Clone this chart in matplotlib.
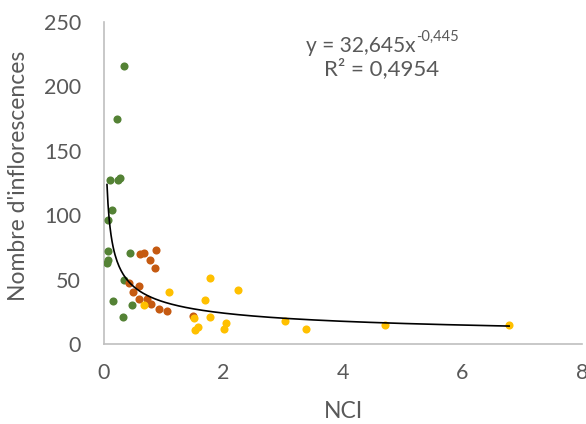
import numpy as np
import matplotlib
matplotlib.use('Agg')
import matplotlib.pyplot as plt

plt.rcParams['font.family'] = ['Lato', 'DejaVu Sans']

# green series
green_x = [0.33, 0.22, 0.10, 0.23, 0.26, 0.13, 0.07, 0.06, 0.06, 0.05, 0.44, 0.33, 0.15, 0.47, 0.31]
green_y = [216, 175, 127, 127, 129, 104, 96, 72, 65, 63, 71, 50, 33, 30, 21]

# orange series
orange_x = [0.61, 0.67, 0.87, 0.77, 0.86, 0.42, 0.59, 0.49, 0.59, 0.72, 0.79, 0.92, 1.06, 1.49]
orange_y = [70, 71, 73, 65, 59, 47, 45, 40, 35, 35, 31, 27, 26, 22]

# yellow series
yellow_x = [0.67, 1.09, 1.77, 1.69, 2.24, 1.50, 1.77, 1.57, 1.53, 2.05, 2.00, 3.03, 3.38, 4.70, 6.78]
yellow_y = [30, 40, 51, 34, 42, 20, 21, 13, 11, 16, 12, 18, 12, 15, 15]

# power trend line y = a * x^b
coef_a = 32.645
coef_b = -0.445

grey = '#595959'
W, H = 586, 424

fig = plt.figure(figsize=(W / 100, H / 100), dpi=100)
ax = fig.add_axes([104 / W, 1 - 344 / H, 478 / W, 322 / H])

ax.scatter(green_x, green_y, s=34, color='#548235', zorder=3, linewidths=0)
ax.scatter(orange_x, orange_y, s=34, color='#C55A11', zorder=3, linewidths=0)
ax.scatter(yellow_x, yellow_y, s=34, color='#FFC000', zorder=3, linewidths=0)

xs = np.linspace(0.05, 6.78, 400)
ax.plot(xs, coef_a * xs ** coef_b, color='black', lw=1.2, zorder=4)

ax.set_xlim(0, 8)
ax.set_ylim(0, 250)
ax.set_xticks([0, 2, 4, 6, 8])
ax.set_yticks([0, 50, 100, 150, 200, 250])

for s in ['top', 'right']:
    ax.spines[s].set_visible(False)
for s in ['left', 'bottom']:
    ax.spines[s].set_color('#BFBFBF')
    ax.spines[s].set_linewidth(1.2)
ax.tick_params(length=0, labelsize=15.5, colors=grey)
ax.tick_params(axis='y', pad=16.5)
ax.tick_params(axis='x', pad=14)

# axis titles
fig.text(344 / W, 1 - 412 / H, 'NCI', ha='center', va='center', fontsize=16.5, color=grey)
fig.text(19 / W, 1 - 176 / H, "Nombre d'inflorescences", ha='center', va='center',
         rotation=90, fontsize=16.5, color=grey)

# trend line equation
fig.text(415 / W, 1 - 51.5 / H, 'y = 32,645x', ha='right', va='baseline', fontsize=15, color=grey)
fig.text(416 / W, 1 - 40.5 / H, '-0,445', ha='left', va='baseline', fontsize=10.5, color=grey)
fig.text(382 / W, 1 - 75 / H, 'R² = 0,4954', ha='center', va='baseline', fontsize=16, color=grey)

fig.savefig('out.png', dpi=100)
